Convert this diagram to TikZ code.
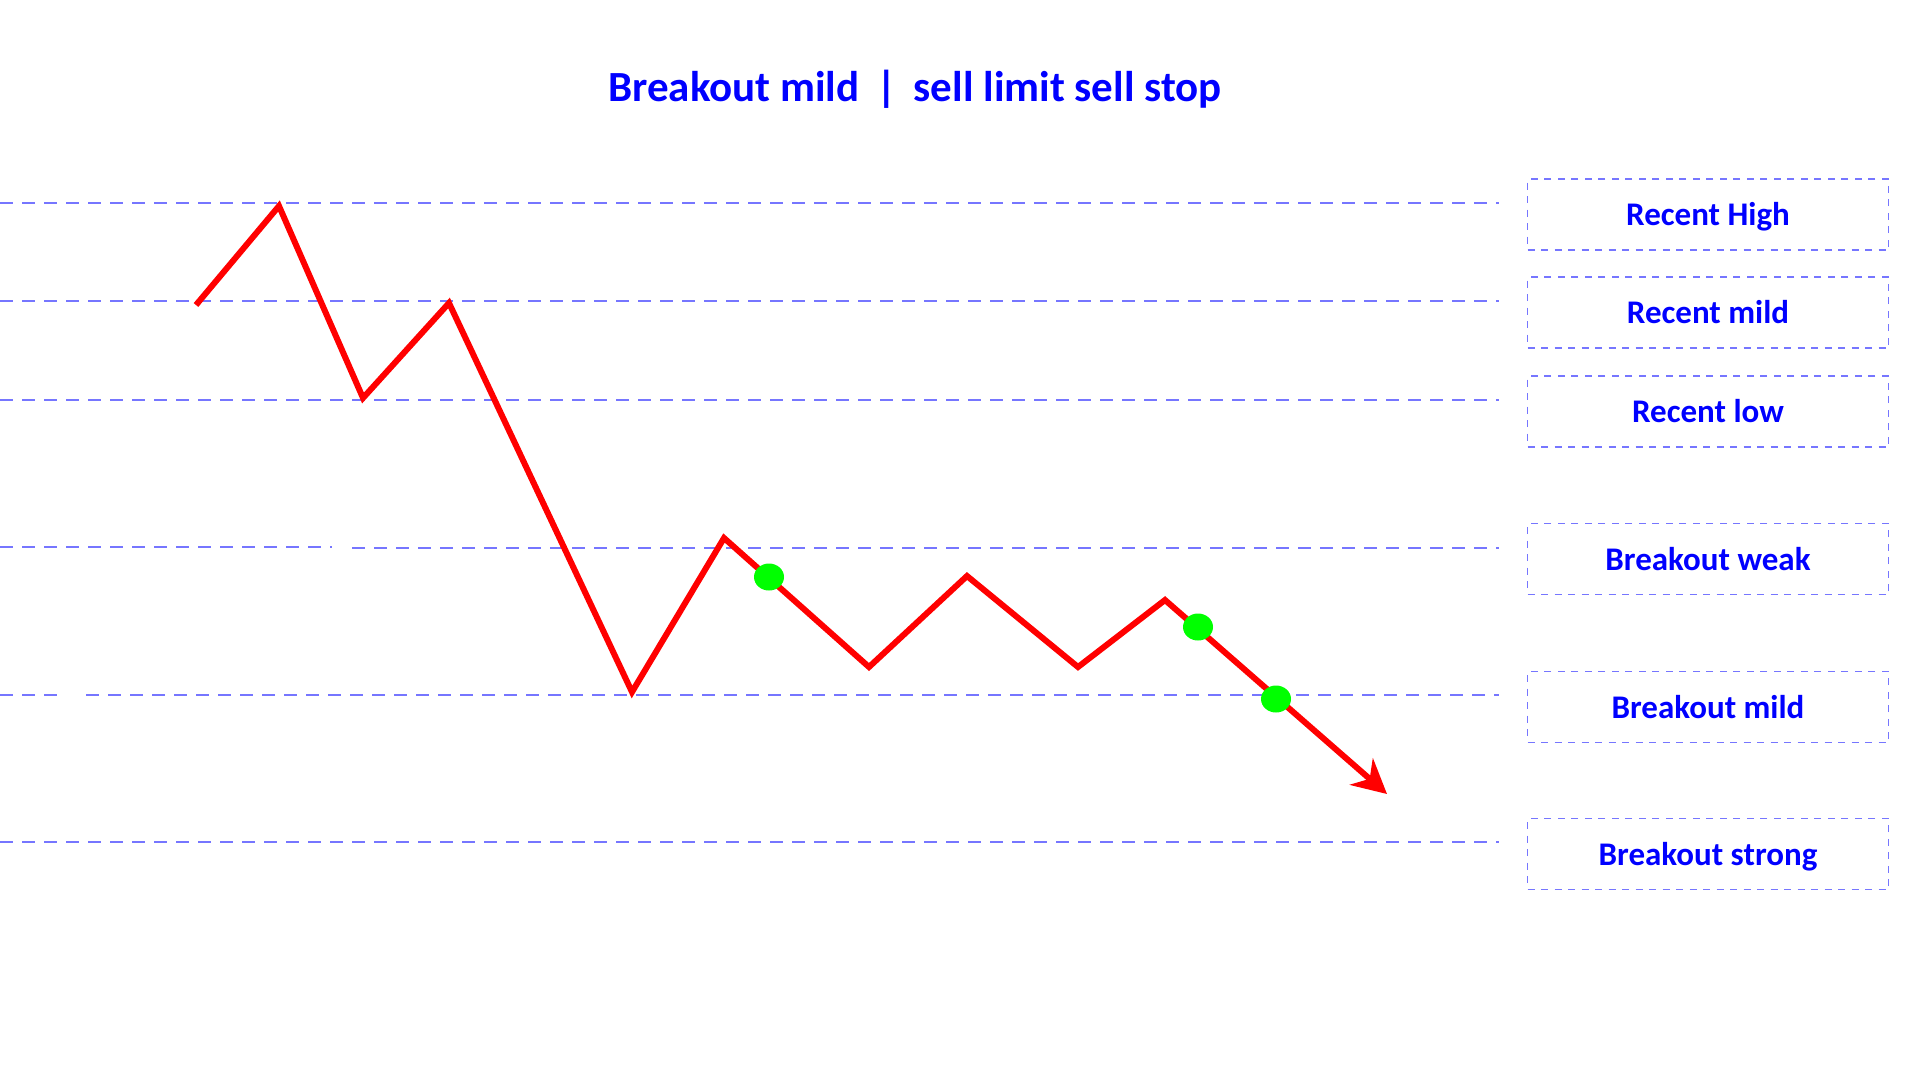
\documentclass[tikz,border=0pt]{standalone}
\usepackage{fontspec}
\setmainfont{Carlito}
\usetikzlibrary{arrows.meta,shapes.geometric}
\definecolor{lvl}{RGB}{118,118,255}
\definecolor{txtblue}{RGB}{0,0,255}
\definecolor{pred}{RGB}{255,0,0}
\definecolor{pgreen}{RGB}{0,255,0}
\tikzset{
  level/.style={draw=lvl, line width=1.6pt, dash pattern=on 13pt off 9pt},
  lbox/.style={draw=lvl, line width=1.5pt, dash pattern=on 7pt off 6.5pt,
    minimum width=361pt, minimum height=71pt, inner sep=0pt,
    text height=28pt, text depth=6pt,
    font=\bfseries\fontsize{33}{36}\selectfont, text=txtblue},
  price/.style={draw=pred, line width=6pt, line join=miter},
  dot/.style={fill=pgreen, draw=none, ellipse, minimum width=30pt, minimum height=27pt, inner sep=0pt},
}
\begin{document}
\begin{tikzpicture}[x=1pt,y=-1pt]
\useasboundingbox (0,0) rectangle (1920,1080);
\fill[white] (0,0) rectangle (1920,1080);
% title
\node[font=\bfseries\fontsize{43}{46}\selectfont, text=txtblue] (title) at (915,89)
  {Breakout mild \,|\, sell limit sell stop};
% level lines
\coordinate (h1a) at (0,203);   \coordinate (h1b) at (1499,203);
\coordinate (h2a) at (0,301);   \coordinate (h2b) at (1499,301);
\coordinate (h3a) at (0,400);   \coordinate (h3b) at (1499,400);
\coordinate (h4a) at (0,547);   \coordinate (h4m) at (332,547);
\coordinate (h4n) at (352,548); \coordinate (h4b) at (1499,548);
\coordinate (h5a) at (0,695);   \coordinate (h5m) at (66,695);
\coordinate (h5n) at (86,695);  \coordinate (h5b) at (1499,695);
\coordinate (h6a) at (0,842);   \coordinate (h6b) at (1499,842);
\draw[level] (h1a) -- (h1b);
\draw[level] (h2a) -- (h2b);
\draw[level] (h3a) -- (h3b);
\draw[level] (h4a) -- (h4m);
\draw[level] (h4n) -- (h4b);
\draw[level] (h5a) -- (h5m);
\draw[level] (h5n) -- (h5b);
\draw[level] (h6a) -- (h6b);
% labels
\node[lbox] (rh) at (1708,214.5) {Recent High};
\node[lbox] (rm) at (1708,312.5) {Recent mild};
\node[lbox] (rl) at (1708,411.5) {Recent low};
\node[lbox] (bw) at (1708,559) {Breakout weak};
\node[lbox] (bm) at (1708,707) {Breakout mild};
\node[lbox] (bs) at (1708,854) {Breakout strong};
% price path
\coordinate (p0) at (196,305);
\coordinate (p1) at (279,206);
\coordinate (p2) at (363,398);
\coordinate (p3) at (449,303);
\coordinate (p4) at (632,692);
\coordinate (p5) at (724,538);
\coordinate (p6) at (869,667);
\coordinate (p7) at (967,576);
\coordinate (p8) at (1078,667);
\coordinate (p9) at (1165,600);
\coordinate (p10) at (1387,794);
\draw[price, -{Stealth[length=34pt,width=35pt,inset=11pt]}]
  (p0) -- (p1) -- (p2) -- (p3) -- (p4) -- (p5) -- (p6) -- (p7) -- (p8) -- (p9) -- (p10);
% entry dots
\node[dot] (d1) at (769,577) {};
\node[dot] (d2) at (1198,627) {};
\node[dot] (d3) at (1276,699) {};
\end{tikzpicture}
\end{document}
